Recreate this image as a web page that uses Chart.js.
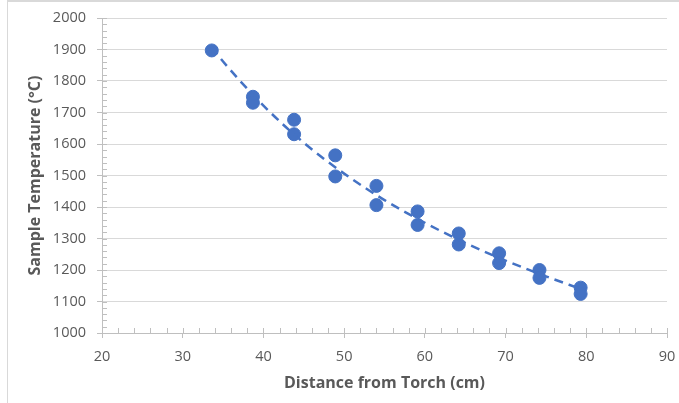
<!DOCTYPE html>
<html>
<head>
<meta charset="utf-8">
<script src="https://cdn.jsdelivr.net/npm/chart.js@4.4.1/dist/chart.umd.min.js"></script>
<style>
  body { margin: 0; background: #ffffff; }
  canvas { display: block; }
</style>
</head>
<body>
<canvas id="GraficaTemperatura" width="679" height="403"></canvas>
<script>
// datos
const distancia = [33.6, 38.7, 38.7, 43.8, 43.8, 48.9, 48.9, 54.0, 54.0, 59.1, 59.1, 64.2, 64.2, 69.2, 69.2, 74.2, 74.2, 79.3, 79.3];
const temperatura = [1897, 1750, 1731, 1677, 1631, 1564, 1497, 1467, 1406, 1386, 1343, 1316, 1281, 1253, 1222, 1200, 1175, 1144, 1124];

// linea de tendencia
const tendenciaDistancia = [33.6, 35, 40, 45, 50, 55, 60, 65, 70, 75, 79.3];
const tendenciaTemperatura = [1908, 1862, 1722, 1604, 1506, 1422, 1350, 1286, 1230, 1180, 1140];

const ticksX = [20, 30, 40, 50, 60, 70, 80, 90];
const ticksY = [1000, 1100, 1200, 1300, 1400, 1500, 1600, 1700, 1800, 1900, 2000];
const pasoMenorX = 2;
const pasoMenorY = 20;

const azul = '#4472C4';
const gris = '#595959';
const fuente = "'Open Sans', 'Liberation Sans', sans-serif";

const $Lienzo = document.getElementById('GraficaTemperatura');

const puntos = [];
for (var i in distancia) {
    puntos.push({ x: distancia[i], y: temperatura[i] });
}
const tendencia = [];
for (var j in tendenciaDistancia) {
    tendencia.push({ x: tendenciaDistancia[j], y: tendenciaTemperatura[j] });
}

// marco y marcas menores de los ejes
const marcoYMarcas = {
    id: 'marcoYMarcas',
    beforeDraw(chart) {
        const ctx = chart.ctx;
        ctx.save();
        ctx.fillStyle = '#ffffff';
        ctx.fillRect(0, 0, chart.width, chart.height);
        ctx.strokeStyle = '#d9d9d9';
        ctx.lineWidth = 2;
        ctx.beginPath();
        ctx.moveTo(7, 1);
        ctx.lineTo(chart.width, 1);
        ctx.stroke();
        ctx.lineWidth = 1;
        ctx.beginPath();
        ctx.moveTo(7.5, 0);
        ctx.lineTo(7.5, chart.height);
        ctx.stroke();
        ctx.restore();
    },
    beforeDatasetsDraw(chart) {
        const ctx = chart.ctx;
        const x = chart.scales.x;
        const y = chart.scales.y;
        ctx.save();
        ctx.strokeStyle = '#bfbfbf';
        ctx.lineWidth = 1;
        ctx.beginPath();
        for (let v = ticksY[0]; v <= ticksY[ticksY.length - 1]; v += pasoMenorY) {
            const py = Math.round(y.getPixelForValue(v)) + 0.5;
            ctx.moveTo(x.left, py);
            ctx.lineTo(x.left + 5, py);
        }
        for (let v = ticksX[0]; v <= ticksX[ticksX.length - 1]; v += pasoMenorX) {
            const px = Math.round(x.getPixelForValue(v)) + 0.5;
            ctx.moveTo(px, y.bottom);
            ctx.lineTo(px, y.bottom - 5);
        }
        ctx.stroke();
        ctx.restore();
    }
};

new Chart($Lienzo, {
    type: 'scatter',
    data: {
        datasets: [
            {
                label: 'Temperatura',
                data: puntos,
                backgroundColor: azul,
                borderColor: azul,
                borderWidth: 1,
                pointRadius: 6.5,
                pointHoverRadius: 6.5,
                order: 1
            },
            {
                label: 'Tendencia',
                data: tendencia,
                type: 'line',
                showLine: true,
                borderColor: azul,
                borderWidth: 2.5,
                borderDash: [9, 6],
                pointRadius: 0,
                fill: false,
                cubicInterpolationMode: 'monotone',
                order: 0
            }
        ]
    },
    options: {
        responsive: false,
        animation: false,
        layout: {
            padding: 0
        },
        plugins: {
            legend: { display: false },
            tooltip: { enabled: false }
        },
        scales: {
            x: {
                type: 'linear',
                min: ticksX[0],
                max: ticksX[ticksX.length - 1],
                afterBuildTicks: function (scale) {
                    scale.ticks = ticksX.map(v => ({ value: v }));
                },
                afterFit: function (scale) {
                    scale.height = 70;
                    scale.paddingLeft = 0;
                    scale.paddingRight = 12;
                },
                grid: {
                    drawOnChartArea: false,
                    drawTicks: true,
                    tickLength: 5,
                    tickColor: '#bfbfbf'
                },
                border: { color: '#bfbfbf', width: 1 },
                ticks: {
                    padding: 10,
                    color: gris,
                    font: { family: fuente, size: 14.5 },
                    callback: function (v) { return String(v); }
                },
                title: {
                    display: true,
                    text: 'Distance from Torch (cm)',
                    color: gris,
                    font: { family: fuente, size: 16, weight: 'bold' },
                    padding: { top: 0, bottom: 10 }
                }
            },
            y: {
                min: ticksY[0],
                max: ticksY[ticksY.length - 1],
                afterBuildTicks: function (scale) {
                    scale.ticks = ticksY.map(v => ({ value: v }));
                },
                afterFit: function (scale) {
                    scale.width = 102;
                    scale.paddingTop = 18;
                    scale.paddingBottom = 0;
                },
                grid: {
                    color: '#d9d9d9',
                    drawTicks: true,
                    tickLength: 5,
                    tickColor: '#bfbfbf'
                },
                border: { color: '#bfbfbf', width: 1 },
                ticks: {
                    padding: 11,
                    color: gris,
                    font: { family: fuente, size: 14.5 },
                    callback: function (v) { return String(v); }
                },
                title: {
                    display: true,
                    text: 'Sample Temperature (°C)',
                    color: gris,
                    font: { family: fuente, size: 16, weight: 'bold' },
                    padding: { top: 26, bottom: 0 }
                }
            }
        }
    },
    plugins: [marcoYMarcas]
});
</script>
</body>
</html>
